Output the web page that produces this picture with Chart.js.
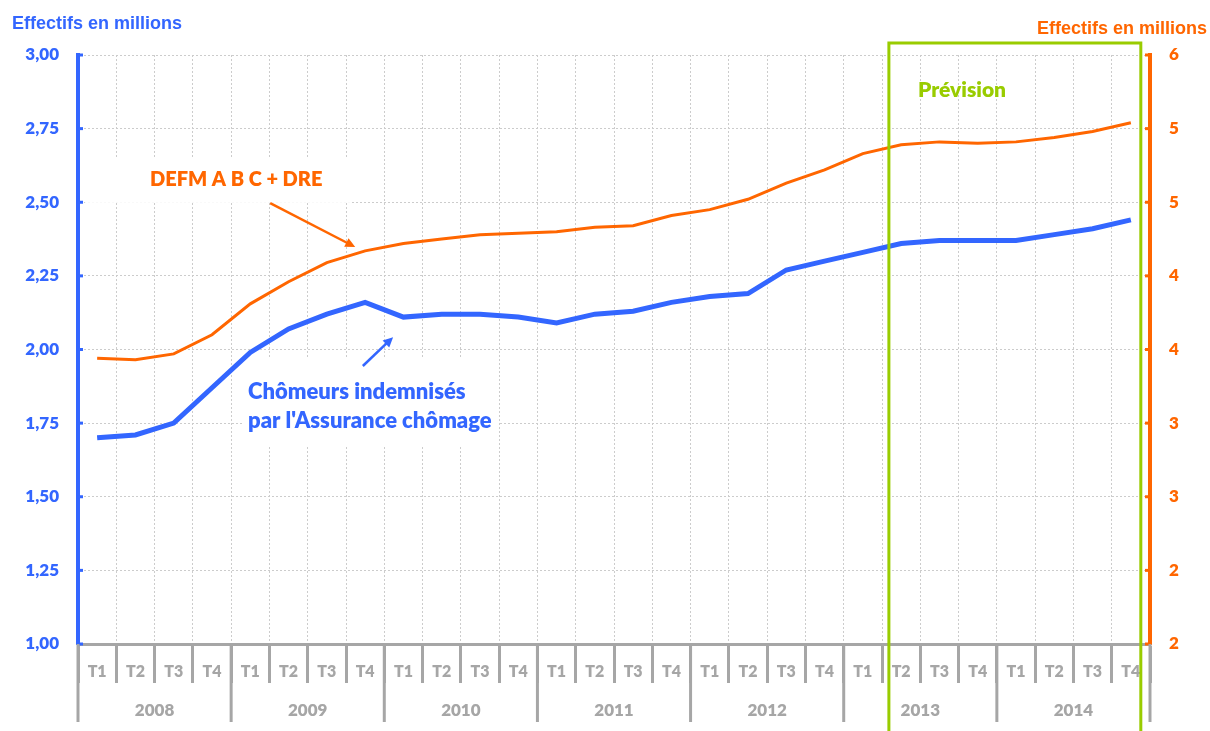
<!DOCTYPE html>
<html>
<head>
<meta charset="utf-8">
<script src="https://cdn.jsdelivr.net/npm/chart.js@4/dist/chart.umd.min.js"></script>
<style>
  body { margin: 0; background: #fff; }
  #wrap { width: 1210px; height: 731px; }
</style>
</head>
<body>
<div id="wrap"><canvas id="chomage" width="1210" height="731"></canvas></div>
<script>
// Data
const years = ["2008", "2009", "2010", "2011", "2012", "2013", "2014"];
const quarters = ["T1", "T2", "T3", "T4"];
const labels = years.flatMap(() => quarters);

// left axis (millions)
const indemnises = [1.70, 1.71, 1.75, 1.87, 1.99, 2.07, 2.12, 2.16,
                    2.11, 2.12, 2.12, 2.11, 2.09, 2.12, 2.13, 2.16,
                    2.18, 2.19, 2.27, 2.30, 2.33, 2.36, 2.37, 2.37,
                    2.37, 2.39, 2.41, 2.44];
// right axis (millions)
const defm = [3.94, 3.93, 3.97, 4.10, 4.31, 4.46, 4.59, 4.67,
              4.72, 4.75, 4.78, 4.79, 4.80, 4.83, 4.84, 4.91,
              4.95, 5.02, 5.13, 5.22, 5.33, 5.39, 5.41, 5.40,
              5.41, 5.44, 5.48, 5.54];

const leftTicks = [1.00, 1.25, 1.50, 1.75, 2.00, 2.25, 2.50, 2.75, 3.00];
const rightTickLabels = ["2", "2", "3", "3", "4", "4", "5", "5", "6"];

const BLUE = '#3366ff';
const ORANGE = '#ff6600';
const GREEN = '#99cc00';
const GREY = '#a6a6a6';
const TXT = 'Lato, "Open Sans", sans-serif';
const HEAVY = '800';

// prevision box, in category index units
const prevStart = 20.68;
const prevEnd = 27.26;

function arrow(ctx, x1, y1, x2, y2, color, w) {
  const a = Math.atan2(y2 - y1, x2 - x1);
  const h = 11;
  ctx.save();
  ctx.strokeStyle = color;
  ctx.fillStyle = color;
  ctx.lineWidth = w;
  ctx.beginPath();
  ctx.moveTo(x1, y1);
  ctx.lineTo(x2 - Math.cos(a) * h * 0.6, y2 - Math.sin(a) * h * 0.6);
  ctx.stroke();
  ctx.beginPath();
  ctx.moveTo(x2, y2);
  ctx.lineTo(x2 - h * Math.cos(a - 0.45), y2 - h * Math.sin(a - 0.45));
  ctx.lineTo(x2 - h * Math.cos(a + 0.45), y2 - h * Math.sin(a + 0.45));
  ctx.closePath();
  ctx.fill();
  ctx.restore();
}

const decor = {
  id: 'decor',
  beforeDatasetsDraw(chart) {
    const ctx = chart.ctx;
    const xs = chart.scales.x, yl = chart.scales.yl;
    // white label boxes over the grid
    ctx.save();
    ctx.fillStyle = '#fff';
    let p = xs.getPixelForValue(1.38), q = yl.getPixelForValue(2.576);
    ctx.fillRect(p - 65, q - 21, 267, 44);
    p = xs.getPixelForValue(3.94); q = yl.getPixelForValue(1.856);
    ctx.fillRect(p - 5, q - 34, 255, 89);
    ctx.restore();
  },
  afterDatasetsDraw(chart) {
    const ctx = chart.ctx;
    const xs = chart.scales.x, yl = chart.scales.yl, yr = chart.scales.yr;
    const area = chart.chartArea;

    // small inward tick marks on both value axes
    ctx.save();
    ctx.lineWidth = 3;
    ctx.strokeStyle = BLUE;
    yl.ticks.forEach((t, i) => {
      const y = yl.getPixelForTick(i);
      ctx.beginPath(); ctx.moveTo(area.left, y); ctx.lineTo(area.left + 5, y); ctx.stroke();
    });
    ctx.strokeStyle = ORANGE;
    yr.ticks.forEach((t, i) => {
      const y = yr.getPixelForTick(i);
      ctx.beginPath(); ctx.moveTo(area.right, y); ctx.lineTo(area.right - 5, y); ctx.stroke();
    });

    // year separators + year labels
    ctx.strokeStyle = GREY;
    ctx.lineWidth = 3;
    for (let k = 0; k <= years.length; k++) {
      const x = xs.getPixelForValue(k * 4 - 0.5);
      ctx.beginPath(); ctx.moveTo(x, area.bottom); ctx.lineTo(x, area.bottom + 78); ctx.stroke();
    }
    ctx.fillStyle = GREY;
    ctx.font = HEAVY + ' 17px ' + TXT;
    ctx.textAlign = 'center';
    ctx.textBaseline = 'middle';
    years.forEach((y, k) => {
      ctx.fillText(y, xs.getPixelForValue(k * 4 + 1.5), area.bottom + 67);
    });

    // axis titles
    ctx.font = 'bold 18px "Liberation Sans", Arial, sans-serif';
    ctx.textBaseline = 'alphabetic';
    ctx.textAlign = 'left';
    ctx.fillStyle = BLUE;
    ctx.fillText('Effectifs en millions', 12, 29);
    ctx.textAlign = 'right';
    ctx.fillStyle = ORANGE;
    ctx.fillText('Effectifs en millions', 1207, 34);

    // prevision frame
    const gx1 = xs.getPixelForValue(prevStart), gx2 = xs.getPixelForValue(prevEnd);
    ctx.strokeStyle = GREEN;
    ctx.lineWidth = 3;
    ctx.beginPath();
    ctx.moveTo(gx1, chart.height + 2);
    ctx.lineTo(gx1, area.top - 12);
    ctx.lineTo(gx2, area.top - 12);
    ctx.lineTo(gx2, chart.height + 2);
    ctx.stroke();

    ctx.font = HEAVY + ' 21px ' + TXT;
    ctx.textAlign = 'left';
    ctx.textBaseline = 'middle';
    ctx.fillStyle = GREEN;
    ctx.fillText('Prévision', xs.getPixelForValue(21.44), yl.getPixelForValue(2.881));

    // series labels
    ctx.font = HEAVY + ' 20px ' + TXT;
    ctx.fillStyle = ORANGE;
    ctx.fillText('DEFM A B C + DRE', xs.getPixelForValue(1.38), yl.getPixelForValue(2.576));
    ctx.font = HEAVY + ' 22px ' + TXT;
    ctx.fillStyle = BLUE;
    const bx = xs.getPixelForValue(3.94), by = yl.getPixelForValue(1.856);
    ctx.fillText('Chômeurs indemnisés', bx, by);
    ctx.fillText("par l'Assurance chômage", bx, by + 29);
    ctx.restore();

    arrow(ctx, xs.getPixelForValue(4.52), yl.getPixelForValue(2.497),
          xs.getPixelForValue(6.74), yl.getPixelForValue(2.348), ORANGE, 2.5);
    arrow(ctx, xs.getPixelForValue(6.94), yl.getPixelForValue(1.944),
          xs.getPixelForValue(7.73), yl.getPixelForValue(2.042), BLUE, 2.5);
  }
};

new Chart(document.getElementById('chomage'), {
  type: 'line',
  data: {
    labels: labels,
    datasets: [
      {
        label: 'DEFM A B C + DRE',
        data: defm,
        yAxisID: 'yr',
        borderColor: ORANGE,
        borderWidth: 3,
        pointRadius: 0,
        tension: 0,
        order: 2
      },
      {
        label: "Chômeurs indemnisés par l'Assurance chômage",
        data: indemnises,
        yAxisID: 'yl',
        borderColor: BLUE,
        borderWidth: 5,
        pointRadius: 0,
        tension: 0,
        order: 1
      }
    ]
  },
  options: {
    responsive: false,
    animation: false,
    layout: { padding: { top: 55, left: 0, right: 0, bottom: 0 } },
    plugins: {
      legend: { display: false },
      tooltip: { enabled: false }
    },
    scales: {
      x: {
        offset: true,
        grid: {
          offset: true,
          color: '#cccccc',
          lineWidth: 1,
          tickColor: GREY,
          tickWidth: 3,
          tickLength: 39,
          tickBorderDash: []
        },
        border: { display: true, color: GREY, width: 3, dash: [2, 2] },
        ticks: {
          color: GREY,
          font: { family: TXT, weight: HEAVY, size: 16 },
          padding: -21,
          maxRotation: 0,
          autoSkip: false
        },
        afterFit(scale) { scale.height = 87; }
      },
      yl: {
        position: 'left',
        min: 1,
        max: 3,
        afterBuildTicks(scale) { scale.ticks = leftTicks.map(v => ({ value: v })); },
        grid: { color: '#cccccc', lineWidth: 1, drawTicks: false },
        border: { display: true, color: BLUE, width: 4, dash: [2, 2] },
        ticks: {
          color: BLUE,
          padding: 19,
          font: { family: TXT, weight: HEAVY, size: 17 },
          callback: (v) => v.toFixed(2).replace('.', ',')
        },
        afterFit(scale) { scale.width = 78; }
      },
      yr: {
        position: 'right',
        min: 2,
        max: 6,
        afterBuildTicks(scale) {
          scale.ticks = rightTickLabels.map((l, i) => ({ value: 2 + i * 0.5 }));
        },
        grid: { drawOnChartArea: false, drawTicks: false },
        border: { display: true, color: ORANGE, width: 4 },
        ticks: {
          color: ORANGE,
          padding: 19,
          font: { family: TXT, weight: HEAVY, size: 17 },
          callback: (v, i) => rightTickLabels[i]
        },
        afterFit(scale) { scale.width = 60; }
      }
    }
  },
  plugins: [decor]
});
</script>
</body>
</html>
